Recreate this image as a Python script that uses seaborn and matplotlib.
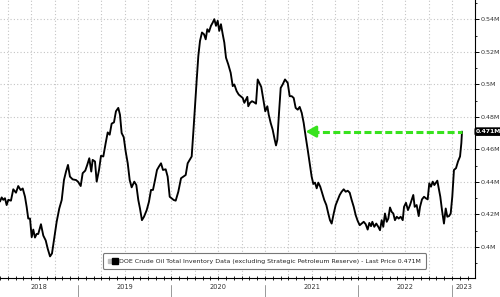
import numpy as np
import pandas as pd
import matplotlib
matplotlib.use("Agg")
import matplotlib.pyplot as plt
import matplotlib.transforms as mtransforms
from matplotlib.lines import Line2D
from matplotlib.legend_handler import HandlerTuple
import seaborn as sns

# ---- data (decimal year, inventory in "M") ----
years = [
    2018.166, 2018.184, 2018.201, 2018.219, 2018.237, 2018.255, 2018.283, 2018.308, 2018.337, 2018.361,
    2018.387, 2018.409, 2018.433, 2018.451, 2018.468, 2018.487, 2018.505, 2018.522, 2018.540, 2018.558,
    2018.575, 2018.604, 2018.629, 2018.655, 2018.676, 2018.701, 2018.722, 2018.743, 2018.772, 2018.800,
    2018.826, 2018.850, 2018.872, 2018.893, 2018.914, 2018.943, 2018.979, 2019.003, 2019.029, 2019.050,
    2019.078, 2019.099, 2019.121, 2019.142, 2019.157, 2019.182,
    2019.200, 2019.225, 2019.246, 2019.271, 2019.296, 2019.318, 2019.339, 2019.360, 2019.385, 2019.406,
    2019.431, 2019.449, 2019.467, 2019.489, 2019.510, 2019.532, 2019.553, 2019.574, 2019.602, 2019.624,
    2019.645, 2019.663, 2019.684, 2019.706, 2019.735, 2019.759, 2019.781, 2019.802, 2019.824, 2019.845,
    2019.866, 2019.888, 2019.909, 2019.938, 2019.959, 2019.981, 2020.002, 2020.024, 2020.045, 2020.073,
    2020.102, 2020.126, 2020.152, 2020.173, 2020.198,
    2020.216, 2020.233, 2020.251, 2020.270, 2020.287, 2020.305, 2020.326, 2020.348, 2020.366, 2020.383,
    2020.401, 2020.422, 2020.441, 2020.458, 2020.476, 2020.494, 2020.511, 2020.529, 2020.548, 2020.565,
    2020.583, 2020.607, 2020.633, 2020.655, 2020.672, 2020.697, 2020.719, 2020.740, 2020.762, 2020.779,
    2020.797, 2020.811, 2020.821, 2020.840, 2020.861, 2020.882, 2020.904, 2020.922, 2020.939, 2020.960,
    2020.982, 2021.003, 2021.025, 2021.040, 2021.061, 2021.082, 2021.104, 2021.118, 2021.132, 2021.150,
    2021.168, 2021.189, 2021.214,
    2021.243, 2021.264, 2021.286, 2021.307, 2021.328, 2021.350, 2021.371, 2021.393, 2021.414, 2021.435,
    2021.457, 2021.478, 2021.499, 2021.517, 2021.535, 2021.553, 2021.570, 2021.591, 2021.613, 2021.634,
    2021.656, 2021.677, 2021.695, 2021.713, 2021.735, 2021.756, 2021.778, 2021.799, 2021.820, 2021.842,
    2021.863, 2021.885, 2021.906, 2021.927, 2021.949, 2021.970, 2021.991, 2022.013, 2022.034, 2022.056,
    2022.077, 2022.098, 2022.116, 2022.134, 2022.148, 2022.169, 2022.190, 2022.212, 2022.230,
    2022.248, 2022.265, 2022.283, 2022.302, 2022.319, 2022.337, 2022.355, 2022.372, 2022.390, 2022.409,
    2022.430, 2022.451, 2022.473, 2022.487, 2022.508, 2022.529, 2022.551, 2022.569, 2022.586, 2022.601,
    2022.622, 2022.644, 2022.658, 2022.679, 2022.701, 2022.722, 2022.740, 2022.757, 2022.775, 2022.794,
    2022.811, 2022.829, 2022.843, 2022.858, 2022.875, 2022.893, 2022.914, 2022.933, 2022.950, 2022.968,
    2022.986, 2023.003, 2023.021, 2023.043, 2023.064, 2023.086, 2023.100, 2023.107,
]
inventory = [
    0.4280, 0.4305, 0.4290, 0.4300, 0.4258, 0.4290, 0.4285, 0.4355, 0.4334, 0.4375,
    0.4350, 0.4360, 0.4310, 0.4247, 0.4175, 0.4175, 0.4060, 0.4107, 0.4058, 0.4080,
    0.4080, 0.4140, 0.4070, 0.4040, 0.3990, 0.3942, 0.3960, 0.4040, 0.4155, 0.4237,
    0.4289, 0.4412, 0.4464, 0.4505, 0.4433, 0.4416, 0.4412, 0.4400, 0.4375, 0.4454,
    0.4470, 0.4505, 0.4546, 0.4464, 0.4536, 0.4526,
    0.4402, 0.4474, 0.4561, 0.4557, 0.4639, 0.4705, 0.4691, 0.4759, 0.4767, 0.4835,
    0.4856, 0.4814, 0.4701, 0.4676, 0.4588, 0.4515, 0.4412, 0.4367, 0.4402, 0.4381,
    0.4289, 0.4237, 0.4165, 0.4186, 0.4227, 0.4278, 0.4351, 0.4351, 0.4412, 0.4474,
    0.4495, 0.4515, 0.4474, 0.4478, 0.4433, 0.4309, 0.4299, 0.4289, 0.4285, 0.4340,
    0.4423, 0.4433, 0.4443, 0.4515, 0.4540,
    0.4557, 0.4701, 0.4866, 0.5031, 0.5175, 0.5268, 0.5320, 0.5309, 0.5278, 0.5340,
    0.5324, 0.5361, 0.5381, 0.5402, 0.5361, 0.5392, 0.5330, 0.5371, 0.5309, 0.5258,
    0.5165, 0.5124, 0.5072, 0.4990, 0.5000, 0.4959, 0.4938, 0.4928, 0.4917, 0.4887,
    0.4907, 0.4924, 0.4866, 0.4887, 0.4897, 0.4891, 0.4882, 0.5031, 0.5010, 0.4985,
    0.4907, 0.4835, 0.4866, 0.4814, 0.4763, 0.4722, 0.4660, 0.4625, 0.4660, 0.4825,
    0.4979, 0.5000, 0.5031,
    0.5010, 0.4928, 0.4928, 0.4917, 0.4856, 0.4845, 0.4862, 0.4825, 0.4763, 0.4680,
    0.4598, 0.4515, 0.4433, 0.4388, 0.4396, 0.4361, 0.4396, 0.4371, 0.4330, 0.4289,
    0.4258, 0.4206, 0.4165, 0.4144, 0.4206, 0.4258, 0.4289, 0.4320, 0.4340, 0.4355,
    0.4340, 0.4346, 0.4334, 0.4289, 0.4247, 0.4196, 0.4161, 0.4134, 0.4144, 0.4155,
    0.4140, 0.4107, 0.4148, 0.4128, 0.4155, 0.4124, 0.4144, 0.4124, 0.4103,
    0.4165, 0.4124, 0.4206, 0.4155, 0.4175, 0.4243, 0.4216, 0.4206, 0.4165, 0.4186,
    0.4175, 0.4186, 0.4165, 0.4247, 0.4272, 0.4227, 0.4258, 0.4289, 0.4320, 0.4247,
    0.4258, 0.4190, 0.4247, 0.4293, 0.4309, 0.4299, 0.4293, 0.4392, 0.4371, 0.4402,
    0.4381, 0.4396, 0.4408, 0.4361, 0.4309, 0.4227, 0.4144, 0.4237, 0.4186, 0.4190,
    0.4206, 0.4309, 0.4474, 0.4485, 0.4526, 0.4557, 0.4639, 0.4710,
]
y_ticks = [0.40, 0.42, 0.44, 0.46, 0.48, 0.50, 0.52, 0.54]
y_tick_labels = ["0.4M", "0.42M", "0.44M", "0.46M", "0.48M", "0.5M", "0.52M", "0.54M"]
year_labels = [2018, 2019, 2020, 2021, 2022, 2023]
series_label = ("DOE Crude Oil Total Inventory Data (excluding Strategic Petroleum Reserve)"
                " - Last Price 0.471M")
last_price_label = "0.471M"
arrow_target_year = 2021.435   # earlier date with the same inventory level

x_min, x_max = 2018.166, 2023.246
y_min, y_max = 0.3809, 0.552

sns.set_theme(style="white")
plt.rcParams["font.family"] = ["DejaVu Sans"]

fig = plt.figure(figsize=(5.0, 2.97), dpi=100)
ax = fig.add_axes([0.0, 19 / 297, 475 / 500, 278 / 297])

df = pd.DataFrame({"year": years, "inventory": inventory})

grid_kw = dict(color="#c4c4c4", lw=0.8, ls=(0, (1, 2)), zorder=0)
quarters = np.arange(np.ceil(x_min * 4) / 4, x_max, 0.25)
for q in quarters:
    ax.axvline(q, **grid_kw)
for t in y_ticks:
    ax.axhline(t, **grid_kw)

sns.lineplot(data=df, x="year", y="inventory", ax=ax, color="black", lw=1.35,
             estimator=None, sort=False, legend=False, zorder=3)

ax.set_xlim(x_min, x_max)
ax.set_ylim(y_min, y_max)
ax.set_xlabel("")
ax.set_ylabel("")

# right y axis
ax.yaxis.tick_right()
ax.set_yticks(y_ticks)
ax.set_yticklabels(y_tick_labels)
ax.set_yticks(np.arange(0.39, 0.551, 0.01), minor=True)
ax.tick_params(axis="y", which="major", right=True, left=False, length=3, width=0.7,
               pad=1.2, labelsize=4.6, labelcolor="#333333", color="black", direction="out")
ax.tick_params(axis="y", which="minor", right=True, left=False, length=1.5, width=0.6,
               color="black", direction="out")

# bottom axis: monthly ticks, no labels
months = np.arange(np.ceil(x_min * 12) / 12, x_max, 1 / 12)
ax.set_xticks(months)
ax.set_xticklabels([])
ax.tick_params(axis="x", which="major", bottom=True, length=2.5, width=0.6,
               direction="inout", color="black")

for side in ["left", "top"]:
    ax.spines[side].set_visible(False)
for side in ["right", "bottom"]:
    ax.spines[side].set_visible(True)
    ax.spines[side].set_color("black")
    ax.spines[side].set_linewidth(0.8)

blend = mtransforms.blended_transform_factory(ax.transData, ax.transAxes)
for yr in year_labels:
    lo, hi = max(yr, x_min), min(yr + 1, x_max)
    ax.text((lo + hi) / 2, -0.033, str(yr), transform=blend, ha="center", va="center",
            fontsize=4.8, color="#333333")
    if yr > year_labels[0]:
        ax.plot([yr, yr], [-0.025, -0.07], transform=blend, clip_on=False,
                color="#999999", lw=0.7)

# green dashed arrow from last price back to the earlier level
green = "#38e21e"
last_year, last_val = years[-1], inventory[-1]
head_len = 0.07
ax.plot([arrow_target_year + head_len, last_year], [last_val, last_val], color=green,
        lw=2.2, dashes=(2.3, 1.1), solid_capstyle="butt", zorder=4)
ax.annotate("", xy=(arrow_target_year, last_val),
            xytext=(arrow_target_year + head_len + 0.01, last_val),
            arrowprops=dict(arrowstyle="-|>,head_length=0.5,head_width=0.28", color=green,
                            lw=2.0, shrinkA=0, shrinkB=0), zorder=4)

# last price tag
yblend = mtransforms.blended_transform_factory(ax.transAxes, ax.transData)
tag_tr = mtransforms.offset_copy(yblend, fig=fig, x=0.9, units="points")
ax.text(1.0, last_val, last_price_label, transform=tag_tr, ha="left", va="center",
        fontsize=4.4, color="white", fontweight="bold", clip_on=False,
        bbox=dict(boxstyle="round,pad=0.18,rounding_size=0.25", fc="black", ec="black"))

# legend
h1 = Line2D([], [], marker="s", color="#bdbdbd", ms=2.2, ls="")
h2 = Line2D([], [], marker="s", color="black", ms=4.0, ls="")
leg = ax.legend([(h1, h2)], [series_label],
                handler_map={tuple: HandlerTuple(ndivide=None, pad=0.1)},
                loc="lower left", bbox_to_anchor=(103 / 475, 9.3 / 278), borderaxespad=0,
                fontsize=4.5, frameon=True, fancybox=True, framealpha=1,
                edgecolor="#777777", handlelength=1.5, handletextpad=0.25,
                borderpad=0.8)
leg.get_frame().set_linewidth(0.8)
for t in leg.get_texts():
    t.set_color("#222222")

fig.savefig("out.png", dpi=100)
